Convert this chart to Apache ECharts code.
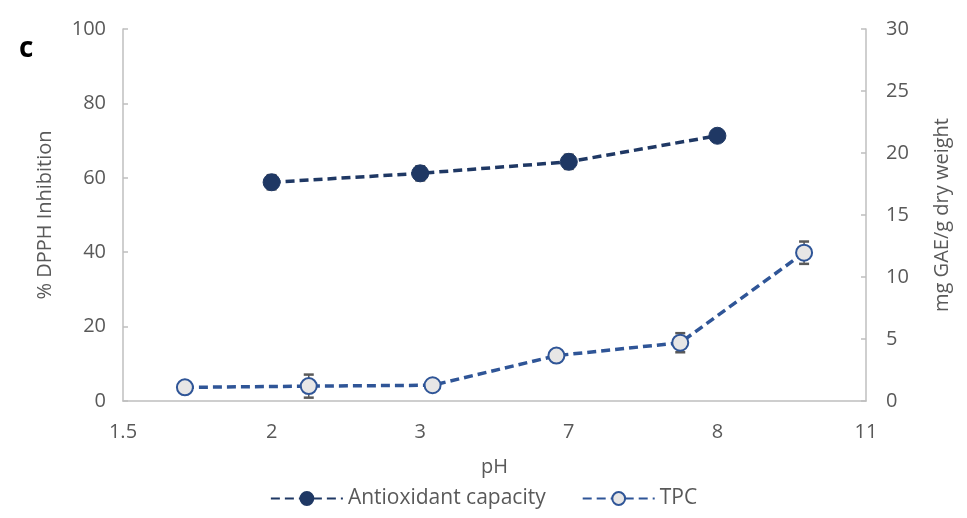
<!DOCTYPE html>
<html>
<head>
<meta charset="utf-8">
<script src="https://cdn.jsdelivr.net/npm/echarts@6/dist/echarts.min.js"></script>
<style>
  html, body { margin: 0; padding: 0; background: #fff; }
  #chart { width: 967px; height: 518px; }
</style>
</head>
<body>
<div id="chart"></div>
<script>
// pH tick labels on the bottom axis
const phLabels = ['1.5', '2', '3', '7', '8', '11'];

// Antioxidant capacity (% DPPH inhibition), plotted on the pH ticks 2, 3, 7, 8
const antioxidant = [null, 58.8, 61.2, 64.3, 71.3, null];
const antioxidantErr = [null, 1.9, 1.9, 1.9, 1.0, null];

// TPC (mg GAE/g dry weight), six samples on a secondary category scale
const tpcSamples = ['s1', 's2', 's3', 's4', 's5', 's6'];
const tpc = [1.1, 1.2, 1.27, 3.66, 4.7, 11.96];
const tpcErr = [0.3, 0.93, 0.3, 0.4, 0.77, 0.9];

const textColor = '#595959';
const axisColor = '#bfbfbf';
const font = '"Open Sans", "Noto Sans", sans-serif';
const fs = 20;

function errorBars(values, errs) {
  return values.map((v, i) => v == null ? null : [i, v - errs[i], v + errs[i]]).filter(d => d);
}

function renderErrorBar(params, api) {
  const x = api.value(0);
  const lo = api.coord([x, api.value(1)]);
  const hi = api.coord([x, api.value(2)]);
  const half = 5;
  const style = { stroke: '#595959', lineWidth: 1.5 };
  const cap = { stroke: '#595959', lineWidth: 2.5 };
  return {
    type: 'group',
    children: [
      { type: 'line', shape: { x1: hi[0], y1: hi[1], x2: lo[0], y2: lo[1] }, style },
      { type: 'line', shape: { x1: hi[0] - half, y1: hi[1], x2: hi[0] + half, y2: hi[1] }, style: cap },
      { type: 'line', shape: { x1: lo[0] - half, y1: lo[1], x2: lo[0] + half, y2: lo[1] }, style: cap }
    ]
  };
}

const chart = echarts.init(document.getElementById('chart'), null, { renderer: 'canvas' });

chart.setOption({
  animation: false,
  backgroundColor: '#ffffff',
  textStyle: { fontFamily: font },
  title: {
    text: 'c',
    left: 14,
    top: 30,
    textStyle: { fontFamily: font, fontSize: 28, fontWeight: 'bold', color: '#000' }
  },
  grid: { left: 123, right: 101, top: 29, bottom: 117, containLabel: false },
  legend: {
    bottom: 4,
    left: 'center',
    itemWidth: 72,
    itemHeight: 16,
    itemGap: 36,
    textStyle: { fontFamily: font, fontSize: 21, color: textColor },
    data: ['Antioxidant capacity', 'TPC']
  },
  xAxis: [
    {
      type: 'category',
      data: phLabels,
      boundaryGap: false,
      axisLine: { show: true, lineStyle: { color: axisColor, width: 1.5 } },
      axisTick: { show: false },
      axisLabel: { fontFamily: font, fontSize: fs, color: textColor, margin: 21 },
      splitLine: { show: false },
      name: 'pH',
      nameLocation: 'middle',
      nameGap: 56,
      nameTextStyle: { fontFamily: font, fontSize: fs, color: textColor }
    },
    {
      type: 'category',
      data: tpcSamples,
      boundaryGap: true,
      show: false,
      position: 'bottom'
    }
  ],
  yAxis: [
    {
      type: 'value',
      min: 0, max: 100, interval: 20,
      position: 'left',
      axisLine: { show: true, lineStyle: { color: axisColor, width: 1.5 } },
      axisTick: { show: true, inside: true, length: 5, lineStyle: { color: axisColor, width: 1.5 } },
      axisLabel: { fontFamily: font, fontSize: fs, color: textColor, margin: 17 },
      splitLine: { show: false },
      name: '% DPPH Inhibition',
      nameLocation: 'middle',
      nameRotate: 90,
      nameGap: 68,
      nameTextStyle: { fontFamily: font, fontSize: fs, color: textColor }
    },
    {
      type: 'value',
      min: 0, max: 30, interval: 5,
      position: 'right',
      axisLine: { show: true, lineStyle: { color: axisColor, width: 1.5 } },
      axisTick: { show: true, inside: true, length: 5, lineStyle: { color: axisColor, width: 1.5 } },
      axisLabel: { fontFamily: font, fontSize: fs, color: textColor, margin: 20 },
      splitLine: { show: false },
      name: 'mg GAE/g dry weight',
      nameLocation: 'middle',
      nameRotate: 90,
      nameGap: 66,
      nameTextStyle: { fontFamily: font, fontSize: fs, color: textColor }
    }
  ],
  series: [
    {
      type: 'custom',
      name: 'antioxidant-err',
      xAxisIndex: 0, yAxisIndex: 0,
      renderItem: renderErrorBar,
      data: errorBars(antioxidant, antioxidantErr),
      z: 1,
      silent: true
    },
    {
      type: 'custom',
      name: 'tpc-err',
      xAxisIndex: 1, yAxisIndex: 1,
      renderItem: renderErrorBar,
      data: errorBars(tpc, tpcErr),
      z: 1,
      silent: true
    },
    {
      name: 'Antioxidant capacity',
      type: 'line',
      xAxisIndex: 0, yAxisIndex: 0,
      data: antioxidant,
      connectNulls: false,
      symbol: 'circle',
      symbolSize: 17,
      z: 3,
      itemStyle: { color: '#1f3864', borderColor: '#1f3864', borderWidth: 1 },
      lineStyle: { color: '#1f3864', width: 3.5, type: [9, 5] }
    },
    {
      name: 'TPC',
      type: 'line',
      xAxisIndex: 1, yAxisIndex: 1,
      data: tpc,
      symbol: 'circle',
      symbolSize: 16,
      z: 3,
      itemStyle: { color: '#e7e6e6', borderColor: '#2f5597', borderWidth: 2 },
      lineStyle: { color: '#2f5597', width: 3.5, type: [9, 5] }
    }
  ]
});
</script>
</body>
</html>
